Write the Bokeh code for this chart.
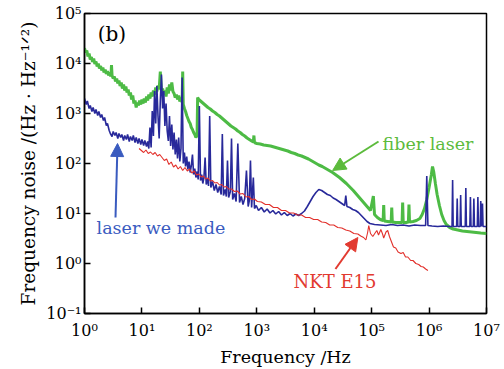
import numpy as np
from bokeh.plotting import figure
from bokeh.models import FixedTicker, Arrow, NormalHead, Label
from bokeh.embed import file_html
from bokeh.resources import INLINE

# ---------------- data (log10 values) ----------------
x_ticks = [1, 10, 100, 1e3, 1e4, 1e5, 1e6, 1e7]
x_tick_labels = ["10⁰", "10¹", "10²", "10³", "10⁴", "10⁵", "10⁶", "10⁷"]
y_ticks = [0.1, 1, 10, 100, 1e3, 1e4, 1e5]
y_tick_labels = ["10⁻¹", "10⁰", "10¹", "10²", "10³", "10⁴", "10⁵"]

# fiber laser (green)
green_logf = [0.00, 0.02, 0.04, 0.06, 0.08, 0.10, 0.12, 0.14, 0.16, 0.18, 0.20, 0.22, 0.24, 0.26, 0.28,
              0.30, 0.32, 0.34, 0.36, 0.38, 0.40, 0.42, 0.44, 0.46, 0.47, 0.48, 0.50, 0.52, 0.54, 0.56,
              0.58, 0.60, 0.62, 0.64, 0.66, 0.68, 0.70, 0.72, 0.74, 0.76, 0.78, 0.80, 0.82, 0.84, 0.86,
              0.88, 0.90, 0.92, 0.94, 0.96, 0.98, 1.00, 1.02, 1.04, 1.06, 1.08, 1.10, 1.12, 1.14, 1.16,
              1.18, 1.20, 1.22, 1.24, 1.26, 1.28, 1.30, 1.32, 1.34, 1.36, 1.38, 1.40, 1.42, 1.44, 1.46,
              1.48, 1.50, 1.52, 1.54, 1.56, 1.58, 1.60, 1.62, 1.64, 1.66, 1.68, 1.70, 1.71, 1.72, 1.74,
              1.76, 1.78, 1.80, 1.82, 1.84, 1.86, 1.88, 1.90, 1.92, 1.94, 1.96, 1.97, 1.99, 2.03, 2.07,
              2.11, 2.15, 2.19, 2.23, 2.27, 2.31, 2.35, 2.39, 2.43, 2.47, 2.51, 2.55, 2.59, 2.63, 2.67,
              2.71, 2.75, 2.79, 2.83, 2.87, 2.91, 2.94, 2.95, 2.96, 3.00, 3.06, 3.12, 3.18, 3.24, 3.30,
              3.36, 3.42, 3.48, 3.54, 3.60, 3.66, 3.72, 3.78, 3.84, 3.90, 3.96, 4.02, 4.08, 4.14, 4.20,
              4.26, 4.32, 4.38, 4.44, 4.50, 4.56, 4.62, 4.68, 4.74, 4.80, 4.86, 4.92, 4.98, 5.03, 5.05,
              5.10, 5.15, 5.20, 5.21, 5.22, 5.28, 5.34, 5.35, 5.36, 5.42, 5.48, 5.53, 5.54, 5.55, 5.60,
              5.64, 5.65, 5.66, 5.72, 5.78, 5.84, 5.88, 5.92, 5.96, 6.00, 6.04, 6.06, 6.08, 6.11, 6.14,
              6.18, 6.22, 6.26, 6.30, 6.36, 6.42, 6.50, 6.58, 6.66, 6.74, 6.82, 6.90, 7.00]
green_logv = [4.31, 4.22, 4.26, 4.14, 4.20, 4.08, 4.13, 4.03, 4.10, 3.99, 4.04, 3.94, 4.00, 3.90, 3.95,
              3.86, 3.92, 3.82, 3.88, 3.79, 3.85, 3.76, 3.82, 3.74, 3.97, 3.76, 3.70, 3.74, 3.64, 3.70,
              3.60, 3.66, 3.55, 3.62, 3.50, 3.58, 3.46, 3.54, 3.42, 3.48, 3.36, 3.42, 3.28, 3.36, 3.20,
              3.26, 3.12, 3.22, 3.16, 3.26, 3.18, 3.28, 3.20, 3.30, 3.22, 3.34, 3.26, 3.38, 3.30, 3.42,
              3.34, 3.46, 3.38, 3.52, 3.44, 3.56, 3.48, 3.84, 3.44, 3.50, 3.38, 3.46, 3.34, 3.52, 3.40,
              3.58, 3.46, 3.62, 3.44, 3.40, 3.32, 3.38, 3.28, 3.36, 3.24, 3.32, 3.22, 3.84, 3.18, 3.10,
              3.04, 2.96, 2.90, 2.84, 2.80, 2.72, 2.68, 2.62, 2.58, 2.52, 2.56, 3.32, 3.28, 3.24, 3.20,
              3.16, 3.12, 3.09, 3.05, 3.02, 2.98, 2.95, 2.91, 2.87, 2.83, 2.79, 2.75, 2.72, 2.69, 2.65,
              2.62, 2.58, 2.55, 2.51, 2.48, 2.45, 2.43, 2.56, 2.42, 2.40, 2.39, 2.37, 2.36, 2.35, 2.33,
              2.31, 2.29, 2.27, 2.25, 2.22, 2.20, 2.17, 2.15, 2.12, 2.09, 2.05, 2.01, 1.97, 1.94, 1.90,
              1.86, 1.82, 1.77, 1.72, 1.66, 1.60, 1.53, 1.46, 1.38, 1.30, 1.22, 1.14, 1.06, 1.35, 0.98,
              0.92, 0.88, 0.86, 1.17, 0.85, 0.84, 0.83, 1.12, 0.83, 0.82, 0.82, 0.82, 1.22, 0.82, 0.82,
              0.83, 1.18, 0.83, 0.84, 0.86, 0.90, 0.98, 1.10, 1.28, 1.52, 1.78, 1.94, 1.84, 1.60, 1.38,
              1.16, 0.98, 0.86, 0.78, 0.72, 0.69, 0.67, 0.65, 0.64, 0.63, 0.62, 0.61, 0.60]

# laser we made (blue)
blue_logf = [0.00, 0.03, 0.05, 0.08, 0.10, 0.13, 0.15, 0.18, 0.20, 0.23, 0.25, 0.28, 0.30, 0.33, 0.35,
             0.38, 0.40, 0.43, 0.45, 0.48, 0.50, 0.53, 0.55, 0.58, 0.60, 0.63, 0.65, 0.68, 0.70, 0.73,
             0.75, 0.78, 0.80, 0.83, 0.85, 0.88, 0.90, 0.93, 0.95, 0.98, 1.00, 1.03, 1.05, 1.08, 1.10,
             1.12, 1.14, 1.16, 1.18, 1.20, 1.22, 1.24, 1.26, 1.28, 1.30, 1.32, 1.34, 1.36, 1.38, 1.40,
             1.42, 1.44, 1.46, 1.48, 1.50, 1.52, 1.54, 1.56, 1.58, 1.60, 1.62, 1.64, 1.66, 1.68, 1.70,
             1.72, 1.74, 1.76, 1.78, 1.80, 1.82, 1.84, 1.86, 1.88, 1.90, 1.92, 1.94, 1.96, 1.98, 2.00,
             2.02, 2.04, 2.06, 2.08, 2.10, 2.12, 2.14, 2.16, 2.18, 2.20, 2.23, 2.26, 2.29, 2.32, 2.35,
             2.38, 2.40, 2.42, 2.45, 2.47, 2.49, 2.51, 2.54, 2.56, 2.58, 2.61, 2.64, 2.67, 2.70, 2.73,
             2.76, 2.79, 2.82, 2.85, 2.87, 2.89, 2.91, 2.94, 2.96, 2.99, 3.03, 3.08, 3.13, 3.18, 3.23,
             3.28, 3.33, 3.38, 3.43, 3.48, 3.53, 3.58, 3.63, 3.68, 3.73, 3.78, 3.83, 3.88, 3.93, 3.98,
             4.03, 4.08, 4.13, 4.18, 4.23, 4.28, 4.33, 4.38, 4.43, 4.48, 4.53, 4.55, 4.57, 4.62, 4.67,
             4.72, 4.77, 4.82, 4.87, 4.92, 4.97, 5.05, 5.15, 5.25, 5.35, 5.45, 5.55, 5.65, 5.75, 5.85,
             5.94, 5.96, 5.98, 6.05, 6.15, 6.25, 6.35, 6.40, 6.41, 6.42, 6.48, 6.49, 6.50, 6.54, 6.55,
             6.56, 6.63, 6.64, 6.65, 6.71, 6.72, 6.73, 6.77, 6.78, 6.79, 6.84, 6.85, 6.86, 6.89, 6.90,
             6.91, 6.93, 6.94, 7.00]
blue_logv = [3.30, 3.18, 3.25, 3.10, 3.16, 3.04, 3.12, 3.00, 3.08, 2.96, 3.04, 2.92, 2.98, 2.86, 2.92,
             2.76, 2.80, 2.66, 2.60, 2.54, 2.64, 2.56, 2.62, 2.50, 2.60, 2.52, 2.58, 2.46, 2.56, 2.48,
             2.58, 2.44, 2.54, 2.46, 2.56, 2.42, 2.52, 2.40, 2.50, 2.38, 2.48, 2.36, 2.46, 2.34, 2.44,
             2.30, 2.72, 2.32, 3.05, 2.55, 3.45, 2.80, 3.55, 2.95, 2.50, 3.25, 3.78, 3.10, 3.45, 2.75,
             3.20, 2.65, 2.45, 2.95, 2.35, 2.78, 2.28, 2.62, 2.18, 2.48, 2.10, 2.52, 2.04, 2.30, 3.72,
             2.00, 2.22, 1.94, 2.14, 1.88, 2.04, 1.82, 1.96, 2.18, 1.78, 1.90, 1.72, 1.84, 1.68, 3.15,
             1.66, 1.78, 1.60, 1.72, 2.12, 1.58, 1.70, 1.55, 2.95, 1.52, 1.64, 1.46, 1.58, 1.42, 1.54,
             1.38, 2.59, 1.36, 1.48, 1.34, 2.06, 1.32, 1.44, 2.50, 1.28, 1.40, 1.24, 2.40, 1.22, 1.34,
             1.18, 1.30, 1.86, 1.14, 1.26, 2.06, 1.12, 1.72, 1.10, 1.16, 1.06, 1.12, 1.03, 1.09, 1.01,
             1.06, 0.99, 1.04, 0.97, 1.02, 0.96, 1.00, 0.95, 0.99, 0.96, 1.00, 1.05, 1.14, 1.24, 1.34,
             1.42, 1.48, 1.46, 1.42, 1.38, 1.36, 1.31, 1.28, 1.24, 1.20, 1.16, 1.36, 1.14, 1.12, 1.08,
             1.06, 1.02, 0.96, 0.90, 0.84, 0.80, 0.78, 0.77, 0.76, 0.78, 0.76, 0.77, 0.75, 0.77, 0.76,
             0.76, 1.75, 0.76, 0.75, 0.74, 0.75, 0.74, 0.74, 1.67, 0.74, 0.74, 1.30, 0.74, 0.74, 1.37,
             0.74, 0.74, 1.51, 0.74, 0.74, 1.33, 0.74, 0.74, 1.30, 0.74, 0.74, 1.33, 0.74, 0.74, 1.25,
             0.74, 1.20, 0.74, 0.74]

# NKT E15 (red)
red_logf = [0.95, 0.99, 1.03, 1.07, 1.11, 1.15, 1.19, 1.23, 1.27, 1.31, 1.35, 1.39, 1.43, 1.47, 1.51,
            1.55, 1.59, 1.63, 1.67, 1.71, 1.75, 1.79, 1.83, 1.87, 1.91, 1.95, 1.99, 2.03, 2.07, 2.11,
            2.15, 2.19, 2.23, 2.27, 2.31, 2.35, 2.39, 2.43, 2.47, 2.51, 2.56, 2.61, 2.66, 2.71, 2.76,
            2.81, 2.86, 2.91, 2.96, 3.01, 3.08, 3.15, 3.22, 3.29, 3.36, 3.43, 3.50, 3.57, 3.64, 3.71,
            3.78, 3.85, 3.92, 3.99, 4.06, 4.13, 4.20, 4.27, 4.34, 4.41, 4.48, 4.55, 4.62, 4.69, 4.76,
            4.81, 4.86, 4.90, 4.93, 4.95, 4.98, 5.02, 5.06, 5.09, 5.12, 5.16, 5.19, 5.21, 5.25, 5.28,
            5.31, 5.34, 5.38, 5.42, 5.46, 5.51, 5.55, 5.59, 5.63, 5.68, 5.72, 5.77, 5.82, 5.86, 5.90,
            5.94, 5.98]
red_logv = [2.30, 2.26, 2.22, 2.27, 2.20, 2.23, 2.18, 2.22, 2.15, 2.18, 2.12, 2.06, 2.09, 1.98, 2.03,
            1.93, 1.97, 1.89, 1.94, 1.86, 1.92, 1.85, 1.89, 1.81, 1.85, 1.77, 1.79, 1.73, 1.75, 1.69,
            1.71, 1.65, 1.66, 1.61, 1.62, 1.57, 1.58, 1.53, 1.54, 1.49, 1.49, 1.44, 1.45, 1.39, 1.40,
            1.33, 1.34, 1.28, 1.29, 1.24, 1.23, 1.18, 1.18, 1.12, 1.12, 1.06, 1.06, 1.01, 1.01, 0.97,
            0.97, 0.92, 0.92, 0.88, 0.88, 0.83, 0.82, 0.77, 0.77, 0.72, 0.71, 0.67, 0.65, 0.60, 0.59,
            0.55, 0.52, 0.47, 0.62, 0.76, 0.60, 0.54, 0.61, 0.66, 0.57, 0.68, 0.59, 0.51, 0.63, 0.66,
            0.54, 0.45, 0.33, 0.31, 0.23, 0.20, 0.22, 0.13, 0.13, 0.06, 0.06, 0.00, -0.02, -0.06, -0.07,
            -0.11, -0.14]

# ---------------- figure ----------------
FONT = "DejaVu Serif"
GREEN = "#4dbb45"
BLUE = "#28299a"
RED = "#e2302b"

p = figure(width=504, height=369, x_axis_type="log", y_axis_type="log",
           x_range=(1, 1e7), y_range=(0.1, 1e5),
           output_backend="svg", toolbar_location=None,
           min_border_left=84, min_border_right=18, min_border_top=13, min_border_bottom=52)

p.grid.visible = False
p.outline_line_color = "black"
p.outline_line_width = 1.5
p.background_fill_color = "white"
p.border_fill_color = "white"

for ax, ticks, labels in ((p.xaxis[0], x_ticks, x_tick_labels), (p.yaxis[0], y_ticks, y_tick_labels)):
    ax.ticker = FixedTicker(ticks=ticks)
    ax.major_label_overrides = {t: l for t, l in zip(ticks, labels)}
    ax.major_tick_in = 6
    ax.major_tick_out = 0
    ax.minor_tick_in = 0
    ax.minor_tick_out = 0
    ax.axis_line_color = "black"
    ax.axis_line_width = 1.5
    ax.major_tick_line_width = 1.5
    ax.major_label_text_font = FONT
    ax.major_label_text_font_size = "16px"
    ax.major_label_text_color = "black"
    ax.axis_label_text_font = FONT
    ax.axis_label_text_font_style = "normal"
    ax.axis_label_text_color = "black"

p.xaxis.axis_label = "Frequency /Hz"
p.yaxis.axis_label = "Frequency noise /(Hz · Hz⁻¹ᐟ²)"
p.xaxis.axis_label_text_font_size = "17.5px"
p.yaxis.axis_label_text_font_size = "18.5px"
p.xaxis.major_label_standoff = 7
p.yaxis.major_label_standoff = 3
p.xaxis.axis_label_standoff = 4
p.yaxis.axis_label_standoff = 4

gf = 10 ** np.array(green_logf)
gv = 10 ** np.array(green_logv)
bf = 10 ** np.array(blue_logf)
bv = 10 ** np.array(blue_logv)
rf = 10 ** np.array(red_logf)
rv = 10 ** np.array(red_logv)

p.line(gf, gv, color=GREEN, line_width=3)
p.line(bf, bv, color=BLUE, line_width=1.6)
p.line(rf, rv, color=RED, line_width=1.1)

# annotations
p.add_layout(Label(x=1.7, y=10 ** 4.6, text="(b)", text_font=FONT, text_font_size="20px",
                   text_baseline="middle", text_color="black"))
p.add_layout(Label(x=10 ** 5.19, y=10 ** 2.40, text="fiber laser", text_font=FONT,
                   text_font_size="17.5px", text_baseline="middle", text_color="#5cbb3c"))
p.add_layout(Label(x=10 ** 0.21, y=10 ** 0.72, text="laser we made", text_font=FONT,
                   text_font_size="17.5px", text_baseline="middle", text_color="#3a5bbf"))
p.add_layout(Label(x=10 ** 3.64, y=10 ** -0.35, text="NKT E15", text_font=FONT,
                   text_font_size="18px", text_baseline="middle", text_color="#e23a30"))

for (x0, y0, x1, y1, c) in ((5.12, 2.44, 4.32, 1.86, "#5cbb3c"),
                            (0.54, 0.92, 0.575, 2.40, "#3a5bbf"),
                            (4.37, -0.11, 4.76, 0.52, "#e23a30")):
    p.add_layout(Arrow(end=NormalHead(size=13, fill_color=c, line_color=c),
                       x_start=10 ** x0, y_start=10 ** y0, x_end=10 ** x1, y_end=10 ** y1,
                       line_color=c, line_width=2))

open("out.html", "w").write(file_html(p, INLINE))
